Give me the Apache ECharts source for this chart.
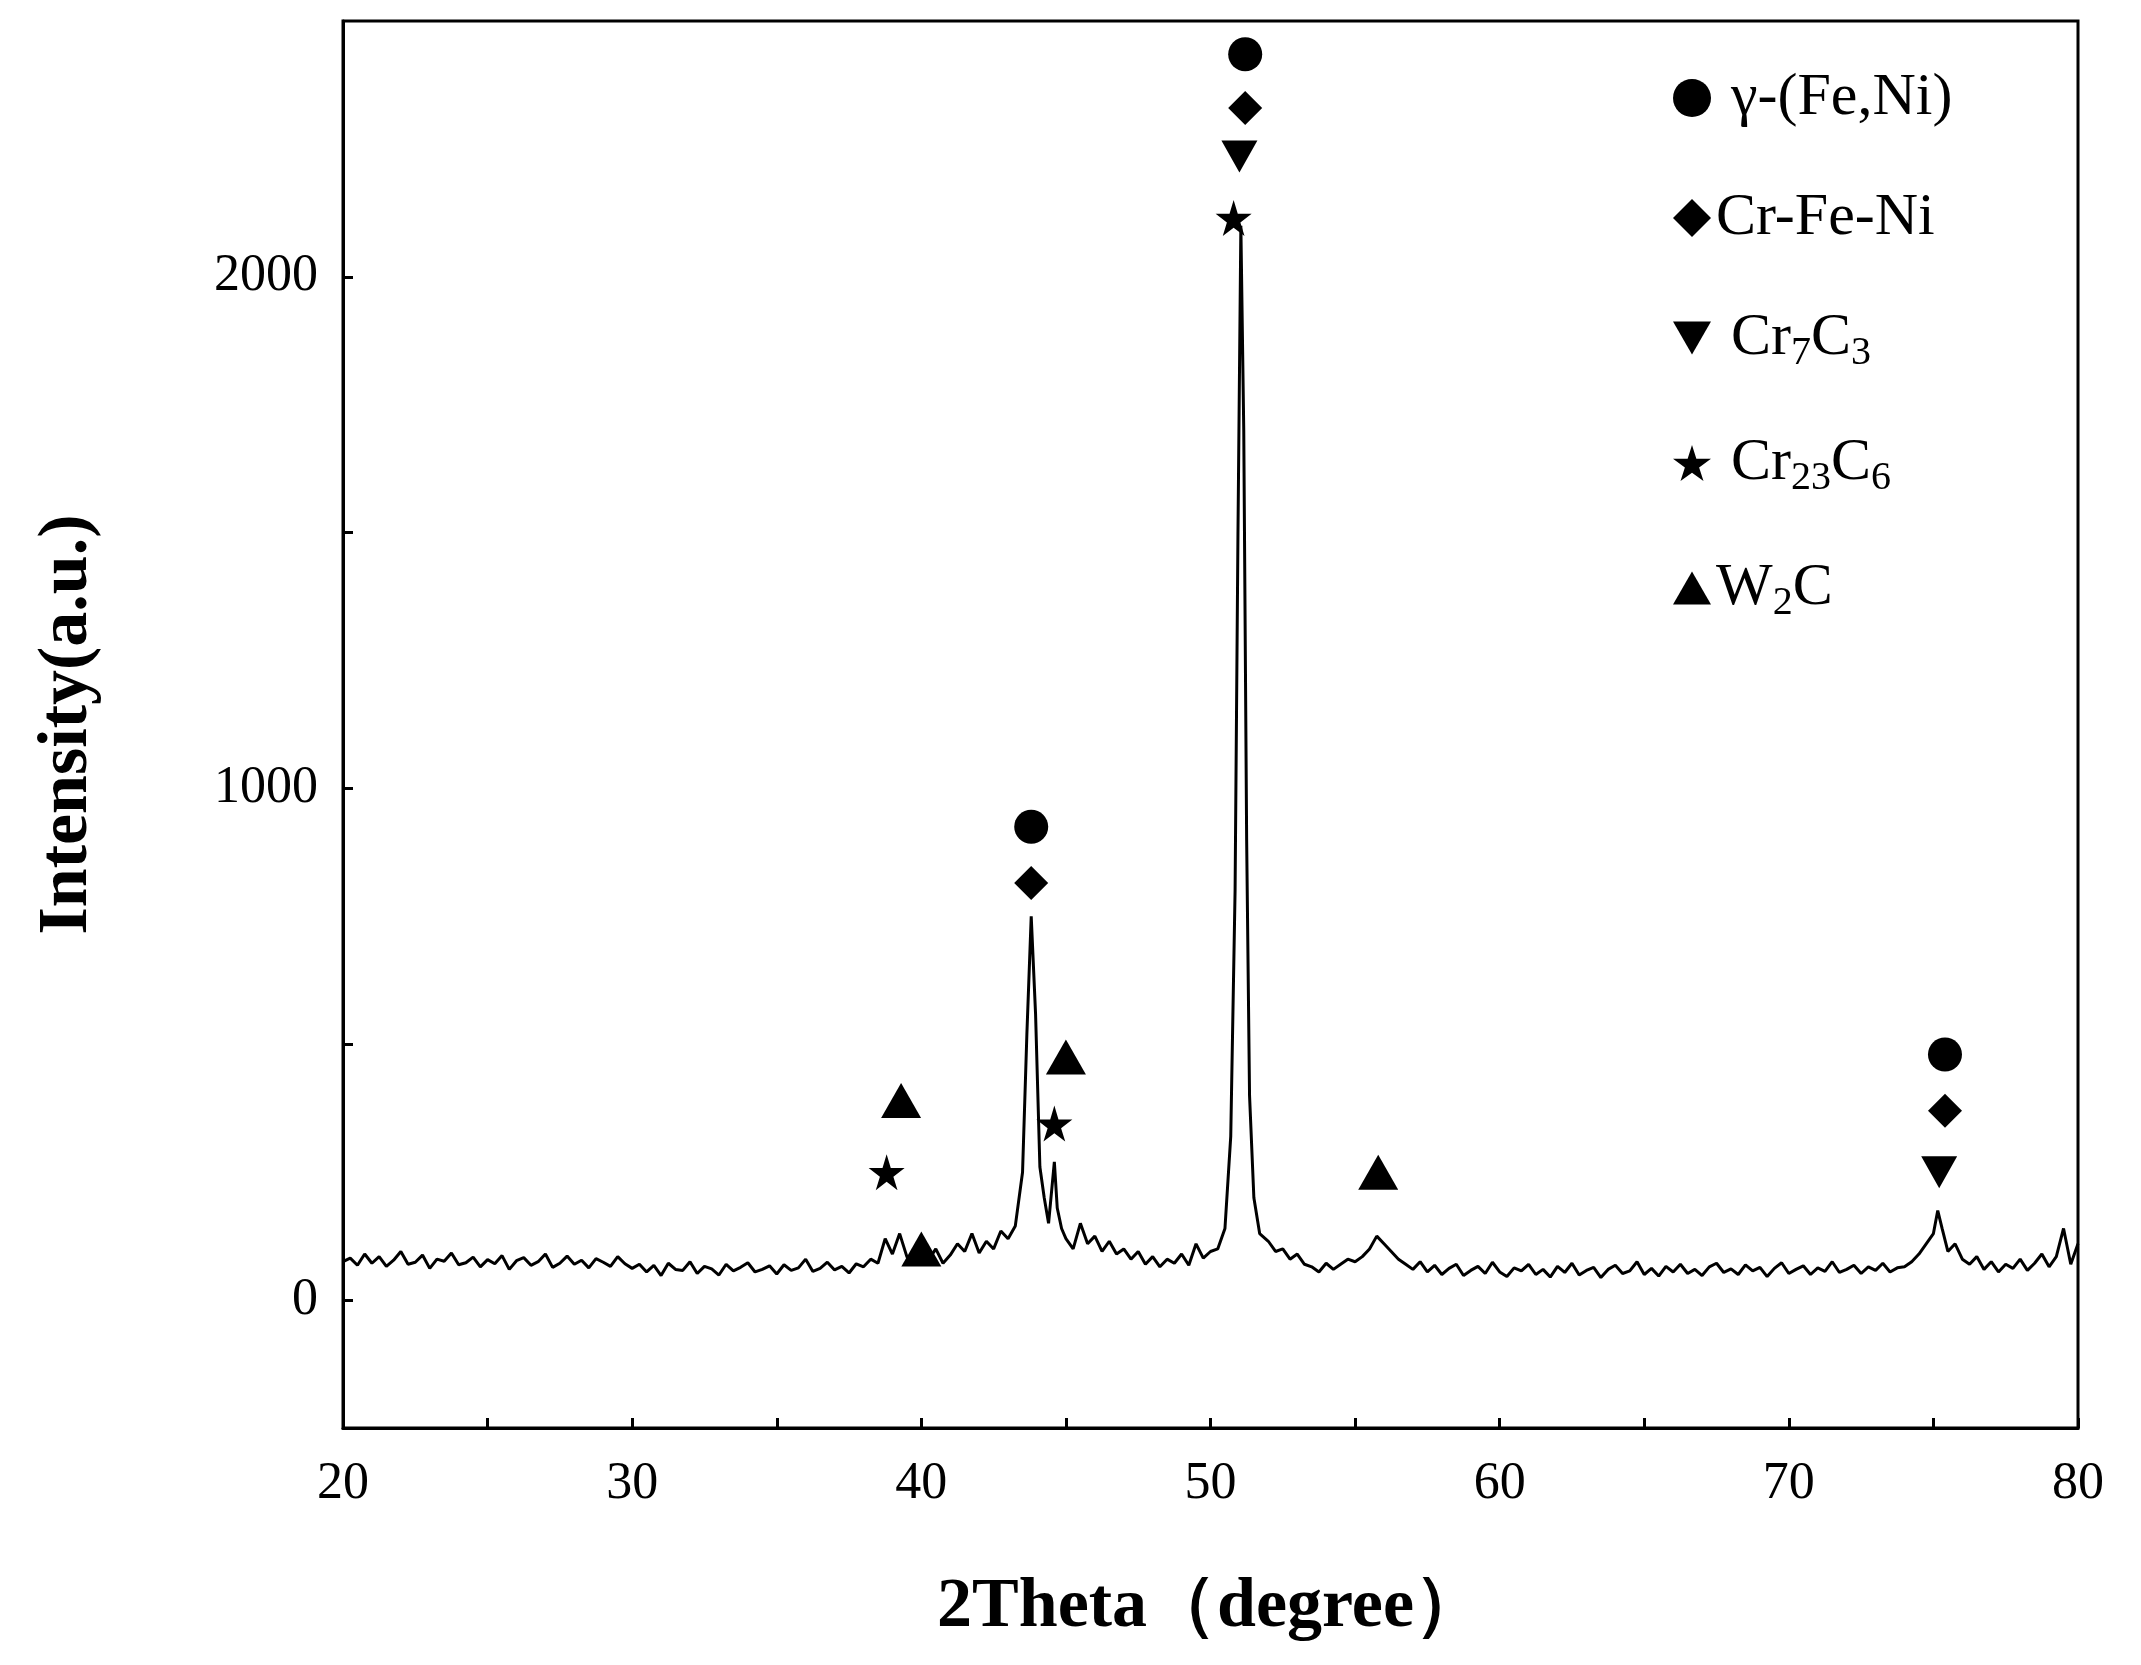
<![CDATA[<!DOCTYPE html><html><head><meta charset="utf-8">
<script src="https://cdn.jsdelivr.net/npm/echarts@6/dist/echarts.min.js"></script>
<style>html,body{margin:0;padding:0;background:#fff}#c{width:2141px;height:1665px}</style></head><body><div id="c"></div>
<script>
const xTickLabels=[20,30,40,50,60,70,80];
const yTickLabels=[0,1000,2000];
const pattern=[
[20,75],[20.25,82],[20.5,68],[20.75,90],[21,72],[21.25,85],[21.5,66],[21.75,78],[22,95],[22.25,70],[22.5,74],[22.75,88],[23,62],[23.25,80],[23.5,76],[23.75,92],[24,69],[24.25,73],[24.5,84],[24.75,65],[25,79],[25.25,71],[25.5,87],[25.75,60],[26,77],[26.25,83],[26.5,68],[26.75,75],[27,90],[27.25,64],[27.5,72],[27.75,86],[28,70],[28.25,78],[28.5,63],[28.75,81],[29,74],[29.25,66],[29.5,85],[29.75,71],
[30,62],[30.25,70],[30.5,55],[30.75,68],[31,48],[31.25,72],[31.5,60],[31.75,58],[32,75],[32.25,52],[32.5,66],[32.75,61],[33,49],[33.25,70],[33.5,57],[33.75,64],[34,73],[34.25,55],[34.5,60],[34.75,67],[35,51],[35.25,69],[35.5,58],[35.75,63],[36,80],[36.25,56],[36.5,62],[36.75,74],[37,59],[37.25,66],[37.5,53],[37.75,71],
[38,65],[38.25,80],[38.5,72],[38.75,120],[39,90],[39.25,130],[39.5,85],[39.75,70],[40,95],[40.25,78],[40.5,100],[40.75,72],[41,88],[41.25,110],[41.5,95],[41.75,130],[42,92],[42.25,115],[42.5,100],[42.75,135],[43,120],[43.25,145],[43.5,250],[43.65,520],[43.8,750],[43.95,560],[44.1,260],[44.25,200],[44.4,150],[44.5,210],[44.6,270],[44.7,180],[44.85,140],[45,120],[45.25,100],[45.5,150],[45.75,110],[46,125],[46.25,95],[46.5,115],[46.75,90],[47,100],[47.25,80],[47.5,95],[47.75,70],[48,85],[48.25,65],[48.5,80],[48.75,72],[49,90],[49.25,68],[49.5,110],[49.75,82],[50,95],[50.25,100],[50.5,140],[50.7,320],[50.85,800],[50.95,1500],[51.05,2100],[51.15,1700],[51.25,900],[51.35,400],[51.5,200],[51.7,130],[52,115],[52.25,95],[52.5,100],[52.75,80],[53,90],[53.25,70],[53.5,65],[53.75,55],[54,72],[54.25,60],[54.5,70],[54.75,80],[55,75],[55.25,85],[55.5,100],[55.75,125],[56,110],[56.25,95],[56.5,80],[56.75,70],[57,60],[57.25,75],[57.5,55],[57.75,68],
[58,50],[58.25,62],[58.5,70],[58.75,48],[59,58],[59.25,66],[59.5,52],[59.75,74],[60,55],[60.25,46],[60.5,63],[60.75,57],[61,70],[61.25,50],[61.5,60],[61.75,45],[62,66],[62.25,54],[62.5,72],[62.75,49],[63,58],[63.25,64],[63.5,44],[63.75,60],[64,68],[64.25,52],[64.5,57],[64.75,75],[65,50],[65.25,62],[65.5,47],[65.75,66],[66,55],[66.25,70],[66.5,52],[66.75,60],[67,48],[67.25,65],[67.5,72],[67.75,54],[68,61],[68.25,50],[68.5,69],[68.75,57],[69,64],[69.25,46],[69.5,62],[69.75,73],[70,52],[70.25,60],[70.5,67],[70.75,50],[71,63],[71.25,56],[71.5,75],[71.75,54],[72,60],[72.25,68],[72.5,52],[72.75,65],[73,58],[73.25,72],[73.5,55],[73.75,63],
[74,65],[74.25,75],[74.5,90],[74.75,110],[75,130],[75.15,175],[75.3,140],[75.5,95],[75.75,110],[76,80],[76.25,70],[76.5,85],[76.75,60],[77,75],[77.25,55],[77.5,70],[77.75,62],[78,80],[78.25,58],[78.5,72],[78.75,90],[79,65],[79.25,85],[79.5,140],[79.75,70],[80,110]];
const gammaPeaks=[[51.2,2435],[43.8,925],[75.4,480]];
const crFeNiPeaks=[[51.2,2330],[43.8,815],[75.4,370]];
const cr7c3Peaks=[[51.0,2235],[75.2,250]];
const cr23c6Peaks=[[50.8,2115],[38.8,250],[44.6,345]];
const w2cPeaks=[[39.3,390],[40.0,100],[45.0,475],[55.8,250]];
const STAR='path://M50,0 L61,35 L98,35 L68,57 L79,91 L50,70 L21,91 L32,57 L2,35 L39,35 Z';
const DOWN='path://M0,0 L100,0 L50,87 Z';
const UP='path://M50,0 L100,87 L0,87 Z';
const F='Liberation Serif';
const chart=echarts.init(document.getElementById('c'));
function sc(name,data,symbol,size){return {type:'scatter',name,data,symbol,symbolSize:size,itemStyle:{color:'#000',opacity:1},z:5,silent:true};}
chart.setOption({
 animation:false,
 grid:{left:343,right:63,top:21,bottom:237,show:true,borderColor:'#000',borderWidth:3},
 legend:{orient:'vertical',left:1668,top:63,itemGap:60,itemWidth:38,itemHeight:38,
  textStyle:{fontFamily:F,fontSize:60,color:'#000',rich:{s:{fontFamily:F,fontSize:40,color:'#000',lineHeight:30,verticalAlign:'bottom'},b:{fontFamily:F,fontSize:60,color:'#000',lineHeight:70}}},
  formatter:function(n){return {'Cr7C3':' {b|Cr}{s|7}{b|C}{s|3}','Cr23C6':' {b|Cr}{s|23}{b|C}{s|6}','W2C':'{b|W}{s|2}{b|C}'}[n]||('{b|'+(n==='γ-(Fe,Ni)'?' ':'')+n+'}');},
  data:[{name:'γ-(Fe,Ni)',icon:'circle'},{name:'Cr-Fe-Ni',icon:'diamond'},{name:'Cr7C3',icon:DOWN},{name:'Cr23C6',icon:STAR},{name:'W2C',icon:UP}]},
 xAxis:{type:'value',min:20,max:80,interval:5,name:'2Theta（degree）',nameLocation:'middle',nameGap:145,
  nameTextStyle:{fontFamily:F,fontSize:70,fontWeight:'bold',color:'#000'},
  axisLine:{onZero:false,lineStyle:{color:'#000',width:3}},axisTick:{inside:true,length:10,lineStyle:{color:'#000',width:3}},
  axisLabel:{fontFamily:F,fontSize:52,color:'#000',margin:30,formatter:v=>xTickLabels.includes(v)?String(v):''},splitLine:{show:false}},
 yAxis:{type:'value',min:-250,max:2500,name:'Intensity(a.u.)',nameLocation:'middle',nameGap:240,
  nameTextStyle:{fontFamily:F,fontSize:70,fontWeight:'bold',color:'#000'},
  axisLine:{lineStyle:{color:'#000',width:3}},axisTick:{inside:true,length:10,lineStyle:{color:'#000',width:3},customValues:[0,500,1000,1500,2000]},
  axisLabel:{fontFamily:F,fontSize:52,color:'#000',margin:25,customValues:yTickLabels,formatter:v=>String(v)},splitLine:{show:false}},
 series:[
  {type:'line',data:pattern,symbol:'none',lineStyle:{color:'#000',width:3},silent:true},
  sc('γ-(Fe,Ni)',gammaPeaks,'circle',34),
  sc('Cr-Fe-Ni',crFeNiPeaks,'diamond',34),
  sc('Cr7C3',cr7c3Peaks,DOWN,[36,32]),
  sc('Cr23C6',cr23c6Peaks,STAR,36),
  sc('W2C',w2cPeaks,UP,[40,35])
 ]});
</script></body></html>]]>
